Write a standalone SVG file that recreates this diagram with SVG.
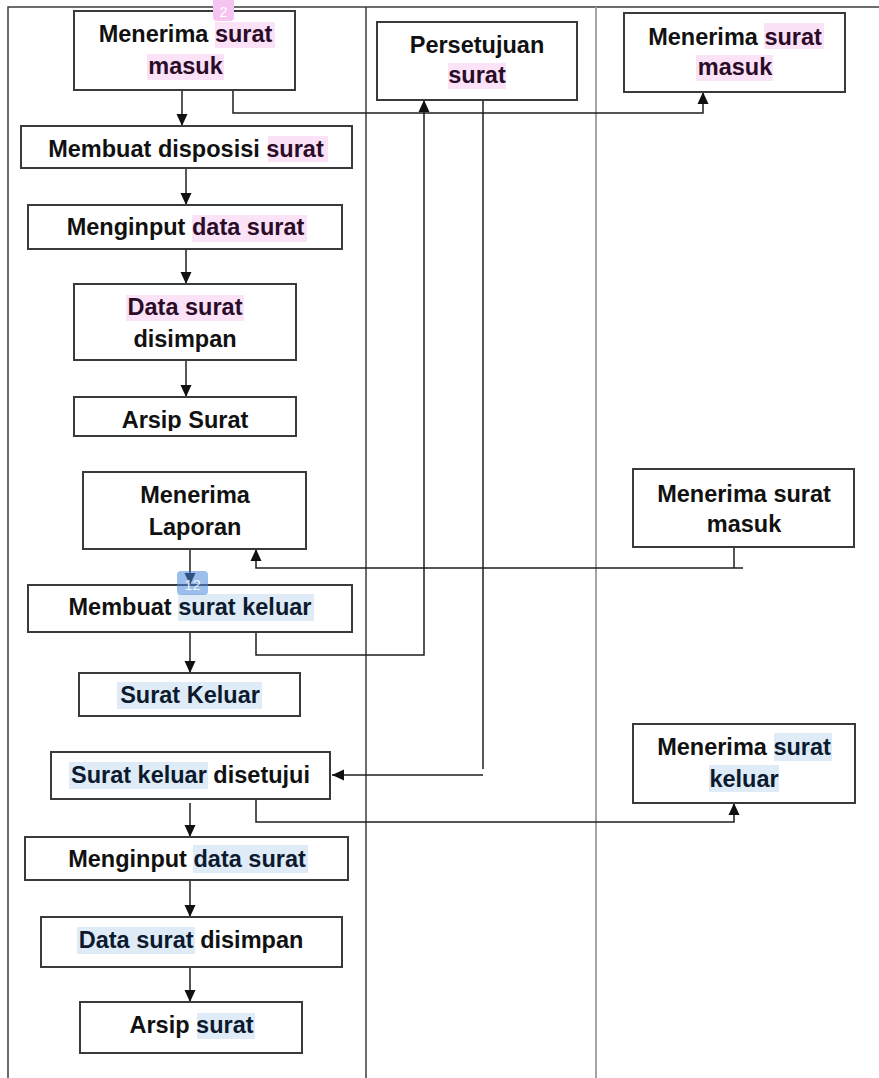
<svg xmlns="http://www.w3.org/2000/svg" width="879" height="1078" viewBox="0 0 879 1078">
<style>
.frame{stroke:#3c3c3c;stroke-width:1.5;fill:none}
.div2{stroke:#9a9a9a;stroke-width:1.8;fill:none}
.box{fill:#fff;stroke:#3a3a3a;stroke-width:2}
.t{font-family:"Liberation Sans",Arial,Helvetica,sans-serif;font-weight:bold;font-size:23.5px;fill:#111;text-anchor:middle}
.hp{fill:#fbe2f7}
.hb{fill:#e0ebf8}
.pt{fill:#2a0c28}
.bt{fill:#0c1a2e}
.c{stroke:#1e1e1e;stroke-width:1.5;fill:none}
.a{marker-end:url(#arr)}
</style>
<defs>
<marker id="arr" viewBox="0 0 12 12" refX="12" refY="6" markerWidth="12" markerHeight="12" markerUnits="userSpaceOnUse" orient="auto">
<path d="M0,0.5 L12,6 L0,11.5 z" fill="#111"/>
</marker>
<clipPath id="clipArsip"><rect x="74" y="397" width="222" height="34"/></clipPath>
</defs>
<rect width="879" height="1078" fill="#fff"/>
<g id="frame">
<path class="frame" d="M8,1078 V7 H879"/>
<path class="frame" d="M366,7 V1078"/>
<path class="div2" d="M596,7 V1078"/>
</g>
<g id="connectors">
<path class="c a" d="M182,90 V126"/>
<path class="c a" d="M233,90 V113 H703 V92"/>
<path class="c a" d="M186,168 V205"/>
<path class="c a" d="M186,249 V284"/>
<path class="c a" d="M186,360 V397"/>
<path class="c" d="M734,547 V568"/>
<path class="c a" d="M743,568 H256 V549"/>
<path class="c a" d="M190,549 V585"/>
<path class="c a" d="M256,632 V655 H424 V100"/>
<path class="c a" d="M190,632 V673"/>
<path class="c" d="M483,85 V769"/>
<path class="c a" d="M483,775 H332"/>
<path class="c a" d="M256,799 V822 H734 V803"/>
<path class="c a" d="M190,803 V837"/>
<path class="c a" d="M190,880 V917"/>
<path class="c a" d="M190,967 V1002"/>
</g>
<g id="n1">
<rect class="box" x="74" y="11" width="221" height="79"/>
<rect class="hp" x="215" y="22" width="60" height="26"/>
<rect class="hp" x="147" y="54" width="77" height="26"/>
<text class="t" x="185.5" y="42">Menerima <tspan class="pt">surat</tspan></text>
<text class="t pt" x="185.5" y="74">masuk</text>
</g>
<g id="badge2">
<rect x="213" y="-4" width="21" height="25" rx="4" fill="#f6c4f1"/>
<text x="223.5" y="17" font-family="Liberation Sans,Arial,sans-serif" font-size="14" fill="#fff" text-anchor="middle">2</text>
</g>
<g id="n2">
<rect class="box" x="21" y="126" width="331" height="42"/>
<rect class="hp" x="268" y="136" width="60" height="26"/>
<text class="t" x="186" y="157">Membuat disposisi <tspan class="pt">surat</tspan></text>
</g>
<g id="n3">
<rect class="box" x="28" y="205" width="314" height="44"/>
<rect class="hp" x="192" y="215" width="115" height="27"/>
<text class="t" x="185.5" y="235">Menginput <tspan class="pt">data surat</tspan></text>
</g>
<g id="n4">
<rect class="box" x="74" y="284" width="222" height="76"/>
<rect class="hp" x="126" y="295" width="118" height="26"/>
<text class="t" x="185" y="315"><tspan class="pt">Data surat</tspan></text>
<text class="t" x="185" y="347">disimpan</text>
</g>
<g id="n5">
<rect class="box" x="74" y="397" width="222" height="39"/>
<text class="t" x="185" y="428" clip-path="url(#clipArsip)">Arsip Surat</text>
</g>
<g id="n6">
<rect class="box" x="377" y="22" width="200" height="78"/>
<rect class="hp" x="448" y="63" width="58" height="26"/>
<text class="t" x="477" y="53">Persetujuan</text>
<text class="t pt" x="477" y="83">surat</text>
</g>
<g id="n7">
<rect class="box" x="624" y="13" width="221" height="79"/>
<rect class="hp" x="764" y="23" width="60" height="26"/>
<rect class="hp" x="696" y="55" width="77" height="26"/>
<text class="t" x="735" y="45">Menerima <tspan class="pt">surat</tspan></text>
<text class="t pt" x="735" y="75">masuk</text>
</g>
<g id="n8">
<rect class="box" x="83" y="472" width="223" height="77"/>
<text class="t" x="195" y="503">Menerima</text>
<text class="t" x="195" y="535">Laporan</text>
</g>
<g id="n9">
<rect class="box" x="633" y="469" width="221" height="78"/>
<text class="t" x="744" y="502">Menerima surat</text>
<text class="t" x="744" y="532">masuk</text>
</g>
<g id="n10">
<rect class="box" x="28" y="585" width="324" height="47"/>
<rect class="hb" x="178" y="594" width="136" height="27"/>
<text class="t" x="190" y="615">Membuat <tspan class="bt">surat keluar</tspan></text>
</g>
<g id="badge12">
<rect x="177" y="571" width="31" height="24" rx="4" fill="#4a88dc" fill-opacity="0.55"/>
<text x="192.5" y="590" font-family="Liberation Sans,Arial,sans-serif" font-size="15" fill="#fff" fill-opacity="0.85" text-anchor="middle">12</text>
</g>
<g id="n11">
<rect class="box" x="79" y="673" width="221" height="43"/>
<rect class="hb" x="117" y="682" width="145" height="27"/>
<text class="t bt" x="190" y="703">Surat Keluar</text>
</g>
<g id="n12">
<rect class="box" x="51" y="752" width="279" height="47"/>
<rect class="hb" x="69" y="762" width="139" height="27"/>
<text class="t" x="190.5" y="783"><tspan class="bt">Surat keluar</tspan> disetujui</text>
</g>
<g id="n13">
<rect class="box" x="633" y="724" width="222" height="79"/>
<rect class="hb" x="774" y="733" width="58" height="28"/>
<rect class="hb" x="709" y="765" width="70" height="27"/>
<text class="t" x="744" y="755">Menerima <tspan class="bt">surat</tspan></text>
<text class="t bt" x="744" y="787">keluar</text>
</g>
<g id="n14">
<rect class="box" x="25" y="837" width="323" height="43"/>
<rect class="hb" x="193" y="845" width="115" height="28"/>
<text class="t" x="187" y="867">Menginput <tspan class="bt">data surat</tspan></text>
</g>
<g id="n15">
<rect class="box" x="41" y="917" width="301" height="50"/>
<rect class="hb" x="77" y="927" width="118" height="27"/>
<text class="t" x="191" y="948"><tspan class="bt">Data surat</tspan> disimpan</text>
</g>
<g id="n16">
<rect class="box" x="80" y="1002" width="222" height="51"/>
<rect class="hb" x="197" y="1013" width="58" height="26"/>
<text class="t" x="191.5" y="1033">Arsip <tspan class="bt">surat</tspan></text>
</g>
</svg>
